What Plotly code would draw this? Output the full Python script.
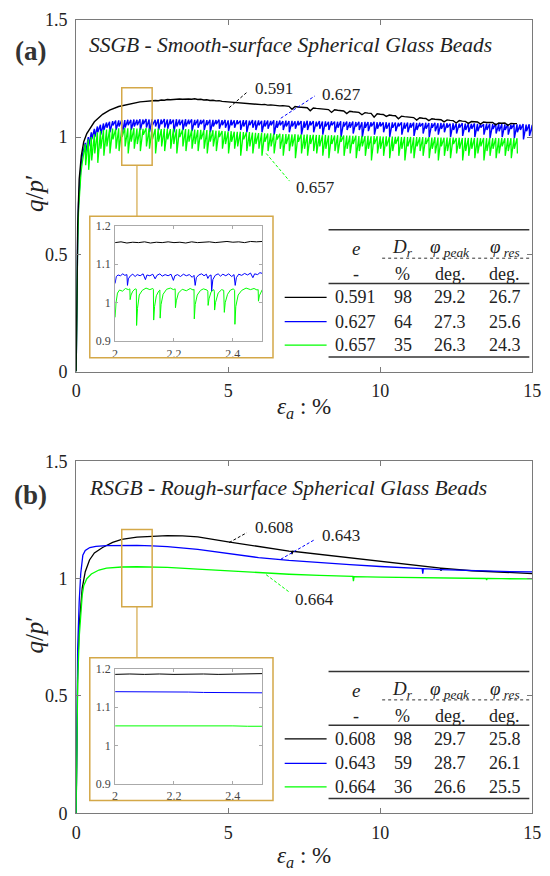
import plotly.graph_objects as go

W, H = 550, 876
def px(v): return v / W
def py(v): return 1 - v / H

# ======================= DATA : (a) SSGB =======================
a_grid_start = 0.3          # strain sampling of the noisy records (step 0.1 %)
a_blk_rise_x = [0, 0.02, 0.05, 0.1, 0.17, 0.25, 0.35, 0.45, 0.6, 0.87, 1.1, 1.4, 1.7, 1.9]
a_blk_rise_y = [0, 0.35, 0.62, 0.82, 0.92, 0.98, 1.015, 1.035, 1.065, 1.097, 1.115, 1.13, 1.14, 1.145]
a_blk_start = 2.0
a_blk_y = [1.148, 1.150, 1.151, 1.153, 1.152, 1.155, 1.156, 1.155, 1.158, 1.157,
           1.160, 1.159, 1.161, 1.160, 1.162, 1.161, 1.163, 1.162, 1.161, 1.163,
           1.160, 1.161, 1.158, 1.159, 1.156, 1.157, 1.154, 1.155, 1.152, 1.151,
           1.148, 1.147, 1.145, 1.146, 1.143, 1.144, 1.142, 1.141, 1.142, 1.139,
           1.140, 1.138, 1.139, 1.136, 1.137, 1.135, 1.136, 1.133, 1.134, 1.132,
           1.131, 1.118, 1.130, 1.128, 1.127, 1.128, 1.125, 1.112, 1.124, 1.122,
           1.121, 1.119, 1.120, 1.117, 1.105, 1.116, 1.114, 1.113, 1.111, 1.100,
           1.110, 1.108, 1.107, 1.105, 1.095, 1.104, 1.102, 1.101, 1.085, 1.099,
           1.097, 1.096, 1.088, 1.094, 1.092, 1.091, 1.078, 1.089, 1.087, 1.086,
           1.084, 1.083, 1.072, 1.082, 1.080, 1.079, 1.070, 1.078, 1.076, 1.075,
           1.074, 1.065, 1.073, 1.071, 1.070, 1.060, 1.070, 1.068, 1.067, 1.058,
           1.066, 1.065, 1.064, 1.055, 1.064, 1.062, 1.061, 1.062, 1.052, 1.060,
           1.059, 1.060, 1.050, 1.058, 1.057, 1.057]

a_blu_rise_x = [0, 0.02, 0.05, 0.08, 0.12, 0.16, 0.2, 0.25]
a_blu_rise_y = [0, 0.32, 0.57, 0.72, 0.82, 0.88, 0.92, 0.95]
a_blu_top = [0.975, 1.0, 1.02, 1.035, 1.045, 1.052, 1.058,
             1.062, 1.065, 1.068, 1.070, 1.071, 1.073, 1.072, 1.074, 1.073, 1.075,
             1.074, 1.076, 1.075, 1.077, 1.075, 1.076, 1.074, 1.076, 1.075, 1.077,
             1.075, 1.076, 1.074, 1.076, 1.075, 1.074, 1.076, 1.074, 1.075, 1.073,
             1.075, 1.073, 1.074, 1.072, 1.074, 1.073, 1.072, 1.074, 1.072, 1.073,
             1.071, 1.073, 1.071, 1.072, 1.070, 1.072, 1.071, 1.070, 1.072, 1.070,
             1.071, 1.069, 1.071, 1.070, 1.069, 1.071, 1.069, 1.070, 1.068, 1.070,
             1.068, 1.069, 1.067, 1.069, 1.068, 1.067, 1.069, 1.067, 1.068, 1.066,
             1.068, 1.066, 1.067, 1.065, 1.067, 1.066, 1.065, 1.067, 1.065, 1.066,
             1.064, 1.066, 1.064, 1.065, 1.063, 1.065, 1.064, 1.063, 1.065, 1.063,
             1.064, 1.062, 1.063, 1.061, 1.063, 1.062, 1.061, 1.063, 1.061, 1.062,
             1.060, 1.062, 1.060, 1.061, 1.059, 1.061, 1.060, 1.059, 1.061, 1.059,
             1.060, 1.058, 1.059, 1.057, 1.059, 1.058, 1.057, 1.059, 1.057, 1.058,
             1.056, 1.058, 1.056, 1.057, 1.055, 1.057, 1.056, 1.055, 1.057, 1.055,
             1.056, 1.054, 1.055, 1.053, 1.055, 1.054, 1.053, 1.055, 1.053, 1.054,
             1.052]
a_blu_bot = [0.93, 0.96, 0.99, 1.0, 1.02, 1.01, 1.03,
             1.04, 1.02, 1.05, 1.03, 1.045, 1.01, 1.04, 1.05, 1.03, 1.045,
             1.05, 1.03, 1.055, 1.04, 1.02, 1.05, 1.045, 1.03, 1.055, 1.04,
             1.035, 1.055, 1.02, 1.045, 1.05, 1.03, 1.045, 1.055, 1.025, 1.05,
             1.04, 1.055, 1.03, 1.05, 1.02, 1.045, 1.055, 1.035, 1.05, 1.04,
             1.025, 1.05, 1.04, 1.055, 1.03, 1.045, 1.02, 1.05, 1.04, 1.03,
             1.05, 1.02, 1.045, 1.035, 1.05, 1.01, 1.04, 1.05, 1.03, 1.045,
             1.02, 1.045, 1.035, 1.05, 1.01, 1.04, 1.03, 1.05, 1.02, 1.045,
             1.035, 1.01, 1.045, 1.03, 1.05, 1.02, 1.04, 1.0, 1.045, 1.03,
             1.04, 1.015, 1.045, 1.03, 1.0, 1.04, 1.025, 1.045, 1.01, 1.035,
             1.045, 1.02, 1.035, 1.0, 1.04, 1.025, 1.045, 1.01, 1.035, 1.02,
             1.04, 1.005, 1.03, 1.045, 1.015, 1.035, 1.0, 1.04, 1.025, 1.01,
             1.035, 1.02, 1.04, 1.0, 1.03, 1.015, 1.04, 1.005, 1.03, 1.02,
             1.035, 1.0, 1.025, 1.04, 1.01, 1.03, 0.995, 1.035, 1.015, 1.025,
             1.0, 1.03, 1.01, 1.035, 0.995, 1.02, 1.03, 0.99, 1.025, 1.005,
             1.0]

a_grn_rise_x = [0, 0.02, 0.05, 0.08, 0.12, 0.16, 0.2, 0.25]
a_grn_rise_y = [0, 0.30, 0.54, 0.69, 0.79, 0.85, 0.89, 0.93]
a_grn_top = [0.97, 0.99, 1.0, 1.012, 1.02, 1.026, 1.03,
             1.032, 1.034, 1.036, 1.035, 1.037, 1.036, 1.038, 1.037, 1.036, 1.038,
             1.036, 1.037, 1.035, 1.038, 1.036, 1.037, 1.035, 1.036, 1.034, 1.036,
             1.035, 1.034, 1.036, 1.033, 1.035, 1.032, 1.034, 1.033, 1.031, 1.032,
             1.030, 1.031, 1.029, 1.030, 1.028, 1.029, 1.027, 1.028, 1.026, 1.025,
             1.024, 1.025, 1.023, 1.022, 1.023, 1.021, 1.020, 1.021, 1.019, 1.018,
             1.017, 1.018, 1.016, 1.015, 1.016, 1.014, 1.013, 1.014, 1.012, 1.013,
             1.012, 1.011, 1.012, 1.011, 1.011, 1.010, 1.011, 1.009, 1.010, 1.009,
             1.009, 1.008, 1.009, 1.007, 1.008, 1.007, 1.008, 1.006, 1.007, 1.006,
             1.006, 1.005, 1.006, 1.004, 1.005, 1.004, 1.005, 1.003, 1.004, 1.003,
             1.003, 1.002, 1.003, 1.001, 1.002, 1.001, 1.002, 1.000, 1.001, 1.000,
             1.000, 0.999, 1.000, 0.999, 1.000, 0.998, 0.999, 0.998, 0.999, 0.998,
             0.998, 0.997, 0.998, 0.997, 0.998, 0.996, 0.997, 0.996, 0.997, 0.996,
             0.997, 0.996, 0.997, 0.995, 0.996, 0.995, 0.996, 0.995, 0.996, 0.995,
             0.996, 0.995, 0.996, 0.995, 0.996, 0.995]
a_grn_bot = [0.88, 0.86, 0.90, 0.93, 0.89, 0.95, 0.92,
             0.96, 0.93, 0.99, 0.95, 0.94, 1.00, 0.96, 0.93, 0.98, 0.95,
             0.97, 0.94, 1.01, 0.96, 0.95, 0.99, 0.93, 0.98, 0.96, 0.94,
             0.99, 0.95, 0.97, 0.93, 1.00, 0.96, 0.94, 0.98, 0.95, 0.97,
             0.94, 0.99, 0.95, 0.93, 0.98, 0.96, 0.94, 1.00, 0.95, 0.97,
             0.93, 0.98, 0.95, 0.96, 0.92, 0.99, 0.94, 0.96, 0.93, 0.97,
             0.95, 0.92, 0.98, 0.94, 0.96, 0.93, 0.99, 0.95, 0.92, 0.97,
             0.94, 0.96, 0.91, 0.98, 0.93, 0.95, 0.92, 0.97, 0.94, 0.93,
             0.96, 0.92, 0.95, 0.91, 0.97, 0.94, 0.93, 0.98, 0.92, 0.95,
             0.93, 0.97, 0.91, 0.94, 0.96, 0.92, 0.95, 0.90, 0.97, 0.93,
             0.95, 0.92, 0.96, 0.91, 0.94, 0.97, 0.92, 0.95, 0.90, 0.96,
             0.93, 0.91, 0.96, 0.94, 0.92, 0.97, 0.91, 0.95, 0.93, 0.90,
             0.96, 0.92, 0.94, 0.91, 0.97, 0.93, 0.95, 0.90, 0.94, 0.92,
             0.95, 0.91, 0.93, 0.96, 0.90, 0.94, 0.92, 0.95, 0.91, 0.93,
             0.96, 0.92, 0.94, 0.91, 0.95, 0.93]

# inset (a): eps_a 2.0-2.5 %
ins_a_blk = [(2.00, 1.156), (2.02, 1.158), (2.04, 1.155), (2.06, 1.157), (2.08, 1.156), (2.10, 1.158),
             (2.12, 1.155), (2.14, 1.157), (2.16, 1.156), (2.18, 1.158), (2.20, 1.156), (2.22, 1.157),
             (2.24, 1.155), (2.26, 1.158), (2.28, 1.156), (2.30, 1.157), (2.32, 1.158), (2.34, 1.156),
             (2.36, 1.157), (2.38, 1.159), (2.40, 1.157), (2.42, 1.158), (2.44, 1.156), (2.46, 1.159),
             (2.48, 1.158), (2.50, 1.159)]
ins_a_blu = [(2.000, 1.050), (2.004, 1.068), (2.010, 1.072), (2.018, 1.070), (2.026, 1.075), (2.033, 1.071),
             (2.040, 1.073), (2.042, 1.045), (2.045, 1.062), (2.052, 1.070), (2.060, 1.074), (2.068, 1.068),
             (2.075, 1.073), (2.085, 1.070), (2.095, 1.075), (2.103, 1.060), (2.108, 1.072), (2.118, 1.070),
             (2.128, 1.074), (2.136, 1.062), (2.142, 1.071), (2.152, 1.075), (2.160, 1.069), (2.170, 1.073),
             (2.180, 1.070), (2.190, 1.074), (2.198, 1.058), (2.203, 1.070), (2.212, 1.073), (2.222, 1.068),
             (2.232, 1.074), (2.242, 1.070), (2.252, 1.073), (2.262, 1.066), (2.268, 1.071), (2.272, 1.045),
             (2.276, 1.065), (2.284, 1.072), (2.294, 1.075), (2.302, 1.070), (2.310, 1.074), (2.315, 1.063),
             (2.320, 1.070), (2.326, 1.072), (2.328, 1.030), (2.332, 1.060), (2.340, 1.071), (2.350, 1.075),
             (2.358, 1.069), (2.366, 1.074), (2.376, 1.070), (2.386, 1.075), (2.396, 1.068), (2.404, 1.073),
             (2.408, 1.045), (2.412, 1.065), (2.420, 1.074), (2.430, 1.071), (2.440, 1.076), (2.450, 1.072),
             (2.460, 1.077), (2.468, 1.065), (2.474, 1.075), (2.484, 1.073), (2.492, 1.078), (2.500, 1.076)]
ins_a_grn = [(2.000, 0.962), (2.003, 1.000), (2.008, 1.025), (2.015, 1.033), (2.025, 1.030), (2.035, 1.037),
             (2.045, 1.034), (2.050, 1.036), (2.051, 1.008), (2.054, 1.020), (2.060, 1.030), (2.068, 1.036),
             (2.072, 1.035), (2.073, 0.941), (2.076, 0.985), (2.082, 1.020), (2.092, 1.032), (2.105, 1.038),
             (2.118, 1.034), (2.128, 1.037), (2.130, 1.035), (2.131, 0.955), (2.134, 0.990), (2.140, 1.018),
             (2.148, 1.030), (2.152, 1.033), (2.153, 0.960), (2.156, 0.995), (2.163, 1.022), (2.175, 1.035),
             (2.188, 1.038), (2.198, 1.034), (2.204, 1.036), (2.205, 0.987), (2.208, 1.005), (2.215, 1.025),
             (2.228, 1.035), (2.242, 1.031), (2.255, 1.037), (2.265, 1.033), (2.268, 1.035), (2.269, 0.958),
             (2.272, 0.995), (2.279, 1.020), (2.290, 1.032), (2.300, 1.036), (2.312, 1.033), (2.315, 1.030),
             (2.316, 0.993), (2.319, 1.010), (2.326, 1.028), (2.335, 1.034), (2.337, 1.030), (2.338, 0.981),
             (2.341, 1.000), (2.350, 1.025), (2.362, 1.034), (2.369, 1.032), (2.371, 0.975), (2.374, 1.000),
             (2.382, 1.022), (2.392, 1.033), (2.402, 1.036), (2.406, 1.032), (2.407, 0.944), (2.410, 0.990),
             (2.418, 1.020), (2.430, 1.032), (2.445, 1.038), (2.460, 1.034), (2.472, 1.037), (2.482, 1.033),
             (2.486, 1.034), (2.487, 1.004), (2.490, 1.018), (2.497, 1.030), (2.500, 1.034)]

# ======================= DATA : (b) RSGB =======================
b_blk_x = [0, 0.02, 0.05, 0.1, 0.15, 0.2, 0.3, 0.44, 0.6, 0.87, 1.2, 1.5, 2.0, 2.5, 3.0, 3.5, 4.0, 5.0, 6.0, 7.0,
           7.08, 7.1, 7.12, 8.0, 9.0, 10.0, 11.0, 11.98, 12.0, 12.02, 13.0, 14.0, 15.0]
b_blk_y = [0, 0.35, 0.6, 0.8, 0.9, 0.96, 1.03, 1.08, 1.11, 1.133, 1.155, 1.168, 1.177, 1.182, 1.184, 1.183, 1.178,
           1.157, 1.136, 1.118, 1.117, 1.105, 1.117, 1.104, 1.089, 1.074, 1.06, 1.045, 1.033, 1.045, 1.034, 1.027, 1.022]
b_blu_x = [0, 0.02, 0.05, 0.1, 0.15, 0.22, 0.3, 0.45, 0.65, 1.0, 1.5, 2.0, 2.5, 3.0, 4.0, 5.0, 6.0, 7.0, 8.0, 9.0,
           10.0, 11.0, 11.38, 11.4, 11.42, 12.0, 13.0, 14.0, 15.0]
b_blu_y = [0, 0.4, 0.7, 0.9, 1.02, 1.1, 1.12, 1.133, 1.138, 1.141, 1.142, 1.142, 1.14, 1.137, 1.125, 1.107, 1.09,
           1.078, 1.068, 1.06, 1.052, 1.046, 1.043, 1.022, 1.043, 1.039, 1.034, 1.031, 1.029]
b_grn_x = [0, 0.02, 0.05, 0.1, 0.15, 0.2, 0.25, 0.35, 0.5, 0.75, 1.0, 1.5, 2.0, 2.5, 3.0, 4.0, 5.0, 6.0, 7.0, 8.0,
           9.0, 9.1, 9.12, 9.14, 10.0, 11.0, 12.0, 13.0, 13.48, 13.5, 13.52, 14.0, 15.0]
b_grn_y = [0, 0.3, 0.55, 0.75, 0.86, 0.93, 0.97, 1.0, 1.02, 1.037, 1.045, 1.05, 1.051, 1.051, 1.048, 1.041, 1.033,
           1.025, 1.019, 1.014, 1.01, 1.01, 0.99, 1.009, 1.007, 1.005, 1.003, 1.001, 1.001, 0.995, 1.001, 1.0, 0.999]

ins_b_x = [2.0, 2.05, 2.1, 2.15, 2.2, 2.25, 2.3, 2.35, 2.4, 2.45, 2.5]
ins_b_blk = [1.185, 1.186, 1.185, 1.186, 1.185, 1.186, 1.186, 1.185, 1.186, 1.186, 1.187]
ins_b_blu = [1.140, 1.140, 1.139, 1.140, 1.139, 1.139, 1.138, 1.138, 1.138, 1.137, 1.137]
ins_b_grn = [1.051, 1.051, 1.052, 1.051, 1.052, 1.052, 1.051, 1.051, 1.051, 1.050, 1.050]

# ======================= TABLES / LABELS =======================
a_title = "SSGB - Smooth-surface Spherical Glass Beads"
b_title = "RSGB - Rough-surface Spherical Glass Beads"
a_e = ["0.591", "0.627", "0.657"]
a_Dr = ["98", "64", "35"]
a_peak = ["29.2", "27.3", "26.3"]
a_res = ["26.7", "25.6", "24.3"]
b_e = ["0.608", "0.643", "0.664"]
b_Dr = ["98", "59", "36"]
b_peak = ["29.7", "28.7", "26.6"]
b_res = ["25.8", "26.1", "25.5"]
colors = ["#000000", "#0000FF", "#00FF00"]

x_ticks = [0, 5, 10, 15]
y_ticks = [0, 0.5, 1, 1.5]
y_ticktext = ["0", "0.5", "1", "1.5"]
ins_xticks = [2, 2.2, 2.4]
ins_yticks = [0.9, 1.0, 1.1, 1.2]
ins_yticktext = ["0.9", "1", "1.1", "1.2"]
zoom_x = [1.5, 2.5]
zoom_y = [0.88, 1.21]

# ======================= BUILD =======================
def comb(start, top, bot, step=0.1):
    # each record sample: peak value, then the sharp drop recorded just after it
    xs, ys = [], []
    for i, (t, b) in enumerate(zip(top, bot)):
        x = round(start + step * i, 3)
        xs += [x, x + 0.012]
        ys += [t, b]
    return xs, ys

SERIF = "Liberation Serif, Times New Roman, Times, serif"
fig = go.Figure()

# (a) main
bx, by = comb(a_grid_start, a_blu_top, a_blu_bot)
fig.add_trace(go.Scatter(x=a_blu_rise_x + bx, y=a_blu_rise_y + by, mode="lines",
                         line=dict(color=colors[1], width=1.4), xaxis="x", yaxis="y"))
gx, gy = comb(a_grid_start, a_grn_top, a_grn_bot)
fig.add_trace(go.Scatter(x=a_grn_rise_x + gx, y=a_grn_rise_y + gy, mode="lines",
                         line=dict(color=colors[2], width=1.3), xaxis="x", yaxis="y"))
kx = [round(a_blk_start + 0.1 * i, 3) for i in range(len(a_blk_y))]
fig.add_trace(go.Scatter(x=a_blk_rise_x + kx, y=a_blk_rise_y + a_blk_y, mode="lines",
                         line=dict(color=colors[0], width=1.4), xaxis="x", yaxis="y"))

# (b) main
for xs, ys, c in [(b_blk_x, b_blk_y, colors[0]), (b_blu_x, b_blu_y, colors[1]), (b_grn_x, b_grn_y, colors[2])]:
    fig.add_trace(go.Scatter(x=xs, y=ys, mode="lines", line=dict(color=c, width=1.3),
                             xaxis="x2", yaxis="y2"))

# inset (a)
for pts, c in [(ins_a_blk, colors[0]), (ins_a_blu, colors[1]), (ins_a_grn, colors[2])]:
    fig.add_trace(go.Scatter(x=[p[0] for p in pts], y=[p[1] for p in pts], mode="lines",
                             line=dict(color=c, width=1), xaxis="x3", yaxis="y3"))
# inset (b)
for ys, c in [(ins_b_blk, colors[0]), (ins_b_blu, colors[1]), (ins_b_grn, colors[2])]:
    fig.add_trace(go.Scatter(x=ins_b_x, y=ys, mode="lines", line=dict(color=c, width=1),
                             xaxis="x4", yaxis="y4"))

AX = "#7a7a7a"
TICKF = dict(family=SERIF, size=18, color="#222")
INSF = dict(family=SERIF, size=12, color="#444")

dom_x = [px(73), px(541)]
dom_ya = [py(370), py(10)]
dom_yb = [py(822), py(462)]
ins_dx = [px(113), px(264)]
ins_dya = [py(339), py(220.7)]
ins_dyb = [py(792), py(674)]

def main_x(dom, anchor):
    return dict(domain=dom, anchor=anchor, range=[0, 15], tickvals=x_ticks, ticks="inside", ticklen=5,
                tickcolor=AX, showline=True, linecolor=AX, linewidth=1, mirror="ticks", showgrid=False,
                zeroline=False, tickfont=TICKF, ticklabelstandoff=3)

def main_y(dom, anchor):
    return dict(domain=dom, anchor=anchor, range=[0, 1.5], tickvals=y_ticks, ticktext=y_ticktext,
                ticks="inside", ticklen=5, tickcolor=AX, showline=True, linecolor=AX, linewidth=1,
                mirror="ticks", showgrid=False, zeroline=False, tickfont=TICKF, ticklabelstandoff=4)

def ins_x(dom, anchor):
    return dict(domain=dom, anchor=anchor, range=[2, 2.5], tickvals=ins_xticks, ticktext=["2", "2.2", "2.4"],
                ticks="inside", ticklen=3, tickcolor="#aaa", showline=True, linecolor="#aaa", linewidth=1,
                mirror="ticks", showgrid=False, zeroline=False, tickfont=INSF, ticklabelstandoff=1)

def ins_y(dom, anchor):
    return dict(domain=dom, anchor=anchor, range=[0.9, 1.2], tickvals=ins_yticks, ticktext=ins_yticktext,
                ticks="inside", ticklen=3, tickcolor="#aaa", showline=True, linecolor="#aaa", linewidth=1,
                mirror="ticks", showgrid=False, zeroline=False, tickfont=INSF, ticklabelstandoff=1)

fig.update_layout(
    width=W, height=H, margin=dict(l=0, r=0, t=0, b=0), autosize=False,
    paper_bgcolor="white", plot_bgcolor="white", showlegend=False,
    font=dict(family=SERIF),
    xaxis=main_x(dom_x, "y"), yaxis=main_y(dom_ya, "x"),
    xaxis2=main_x(dom_x, "y2"), yaxis2=main_y(dom_yb, "x2"),
    xaxis3=ins_x(ins_dx, "y3"), yaxis3=ins_y(ins_dya, "x3"),
    xaxis4=ins_x(ins_dx, "y4"), yaxis4=ins_y(ins_dyb, "x4"),
)

GOLD = "rgb(212,168,72)"
shapes = []
anns = []

def data_to_paper_y(v, dom):
    return dom[0] + (v - 0) / 1.5 * (dom[1] - dom[0])

for (xr, yr, dom, box_top, box_bot) in [("x", "y", dom_ya, 211, 356), ("x2", "y2", dom_yb, 663, 809)]:
    shapes.append(dict(type="rect", xref=xr, yref=yr, x0=zoom_x[0], x1=zoom_x[1], y0=zoom_y[0], y1=zoom_y[1],
                       line=dict(color=GOLD, width=1.5)))
    shapes.append(dict(type="line", xref=xr, yref="paper", x0=sum(zoom_x) / 2, x1=sum(zoom_x) / 2,
                       y0=py(box_top), y1=data_to_paper_y(zoom_y[0], dom), line=dict(color=GOLD, width=1.2)))
    shapes.append(dict(type="rect", xref="paper", yref="paper", x0=px(87), x1=px(275), y0=py(box_bot),
                       y1=py(box_top), line=dict(color=GOLD, width=1.5)))

for lab, ty, title, tty, xty in [("(a)", 42, a_title, 36, 407), ("(b)", 496, b_title, 489, 867)]:
    anns.append(dict(xref="paper", yref="paper", x=px(26), y=py(ty), text="<b>" + lab + "</b>", showarrow=False,
                     font=dict(family=SERIF, size=27, color="#333"), xanchor="center", yanchor="middle"))
    anns.append(dict(xref="paper", yref="paper", x=px(84), y=py(tty), text="<i>" + title + "</i>",
                     showarrow=False, font=dict(family=SERIF, size=21.5, color="#222"), xanchor="left",
                     yanchor="middle"))
    anns.append(dict(xref="paper", yref="paper", x=px(307), y=py(xty),
                     text="<i>ε</i><sub><i>a</i></sub> : %", showarrow=False,
                     font=dict(family=SERIF, size=23, color="#222"), xanchor="center", yanchor="middle"))
for yc in (188, 640):
    anns.append(dict(xref="paper", yref="paper", x=px(30), y=py(yc), text="<i>q</i>/<i>p</i>′", textangle=-90,
                     showarrow=False, font=dict(family=SERIF, size=25, color="#222"), xanchor="center",
                     yanchor="middle"))

leaders = [
    ("x", "y", a_e[0], colors[0], (5.03, 1.125), (5.61, 1.19), (5.83, 1.208)),
    ("x", "y", a_e[1], colors[1], (6.73, 1.08), (7.85, 1.175), (8.01, 1.183)),
    ("x", "y", a_e[2], colors[2], (6.25, 0.93), (7.02, 0.812), (7.15, 0.783)),
    ("x2", "y2", b_e[0], colors[0], (5.03, 1.154), (5.61, 1.196), (5.83, 1.217)),
    ("x2", "y2", b_e[1], colors[1], (6.73, 1.083), (7.85, 1.167), (8.01, 1.183)),
    ("x2", "y2", b_e[2], colors[2], (6.25, 1.017), (7.02, 0.942), (7.12, 0.912)),
]
for xr, yr, txt, c, p0, p1, pl in leaders:
    shapes.append(dict(type="line", xref=xr, yref=yr, x0=p0[0], y0=p0[1], x1=p1[0], y1=p1[1],
                       line=dict(color=c, width=1, dash="3px,2px")))
    anns.append(dict(xref=xr, yref=yr, x=pl[0], y=pl[1], text=txt, showarrow=False, xanchor="left",
                     yanchor="middle", font=dict(family=SERIF, size=17, color="#222")))

col_x = [360, 408, 457, 513]
for off, es, drs, pks, rss in [(0, a_e, a_Dr, a_peak, a_res), (452, b_e, b_Dr, b_peak, b_res)]:
    heads = ["<i>e</i>", "<i>D</i><sub><i>r</i></sub>", "<i>φ</i><sub><i> peak</i></sub>", "<i>φ</i><sub><i> res</i></sub>"]
    units = ["-", "%", "deg.", "deg."]
    for cx, h, u in zip(col_x, heads, units):
        anns.append(dict(xref="paper", yref="paper", x=px(cx), y=py(244 + off), text=h, showarrow=False,
                         xanchor="center", yanchor="middle", font=dict(family=SERIF, size=19, color="#222")))
        anns.append(dict(xref="paper", yref="paper", x=px(cx), y=py(270 + off), text=u, showarrow=False,
                         xanchor="center", yanchor="middle", font=dict(family=SERIF, size=18, color="#222")))
    row_y = [294, 319, 343]
    for i, ry in enumerate(row_y):
        for cx, val in zip(col_x, [es[i], drs[i], pks[i], rss[i]]):
            anns.append(dict(xref="paper", yref="paper", x=px(cx), y=py(ry + off), text=val, showarrow=False,
                             xanchor="center", yanchor="middle", font=dict(family=SERIF, size=18, color="#222")))
        shapes.append(dict(type="line", xref="paper", yref="paper", x0=px(287), x1=px(330), y0=py(ry + off),
                           y1=py(ry + off), line=dict(color=colors[i], width=1.3)))
    for ly, x0, dash, w in [(225, 332, "solid", 1.5), (254, 387, "dot", 1), (280, 332, "solid", 1.5),
                            (355, 332, "solid", 1.5)]:
        shapes.append(dict(type="line", xref="paper", yref="paper", x0=px(x0), x1=px(538), y0=py(ly + off),
                           y1=py(ly + off), line=dict(color="#333", width=w, dash=dash)))

fig.update_layout(shapes=shapes, annotations=anns)
fig.write_html("out.html", config={"displayModeBar": False, "responsive": False},
               post_script="document.body.style.margin='0';document.body.style.overflow='hidden';")
